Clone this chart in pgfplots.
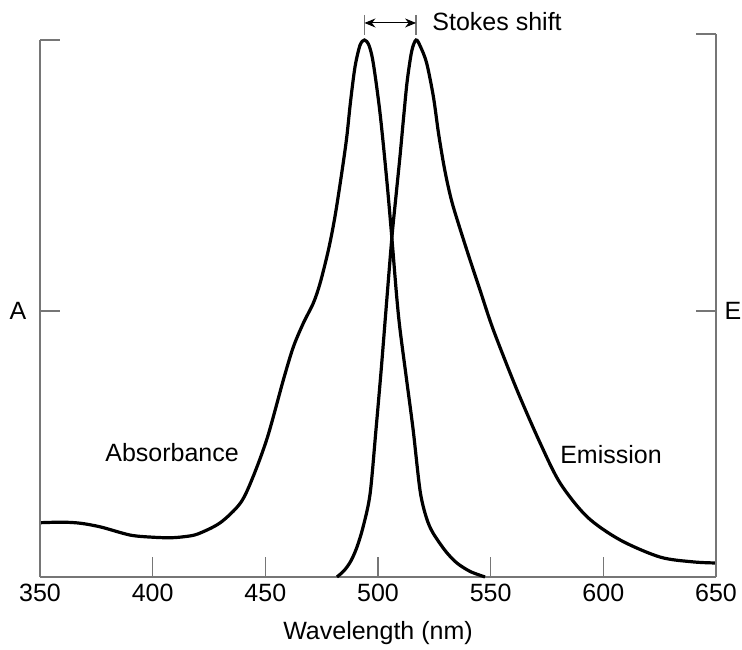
\documentclass[border=0pt]{standalone}
\usepackage{fontspec}
\setmainfont{Liberation Sans}
\usepackage{pgfplots}
\pgfplotsset{compat=1.18}
\usetikzlibrary{arrows.meta}

\definecolor{axisgray}{RGB}{118,118,118}

% absorbance spectrum (normalised)
\pgfplotstableread{
nm val
350 0.101
360 0.102
368 0.100
377 0.093
390 0.078
400 0.074
408 0.073
414 0.075
420 0.080
430 0.101
439 0.138
444.5 0.186
451 0.261
458 0.367
462.4 0.428
466.9 0.473
471.3 0.510
474.3 0.547
478 0.609
480.9 0.671
483.9 0.752
486.1 0.818
487.8 0.885
489.8 0.950
492 0.990
494 1.000
496 0.990
497.9 0.957
500.9 0.864
503.9 0.739
506.1 0.634
508.3 0.522
509.8 0.460
512.7 0.367
515.6 0.274
518.7 0.160
521.5 0.110
524.4 0.082
530 0.048
535 0.026
541 0.010
547.5 0.000
}\absorbance

% emission spectrum (normalised)
\pgfplotstableread{
nm val
481.8 0.000
485 0.012
488 0.030
490.7 0.056
493.5 0.095
496.5 0.155
499.1 0.274
501.5 0.390
503.9 0.516
506.2 0.634
508 0.710
509.8 0.785
511.5 0.862
513 0.925
515 0.980
516.9 1.000
518.8 0.988
521.6 0.957
524.6 0.894
526.8 0.828
529 0.772
531 0.730
533.5 0.688
539.4 0.609
545.3 0.534
551.2 0.460
561.7 0.348
571.9 0.250
580.8 0.175
592.8 0.112
607.4 0.069
625.2 0.037
640 0.028
650 0.026
}\emission

\begin{document}
\begin{tikzpicture}
\begin{axis}[
    scale only axis,
    width=338pt,
    height=271.5pt,
    xmin=350, xmax=650,
    ymin=0, ymax=1.0112,
    axis x line*=bottom,
    axis y line*=left,
    y axis line style={draw=none},
    x axis line style={axisgray, line width=0.9pt, -},
    ytick=\empty,
    xtick={350,400,...,650},
    tick align=inside,
    major tick length=10pt,
    xtick style={axisgray, line width=0.6pt},
    xticklabel style={font=\fontsize{12.5}{15}\selectfont, text=black},
    /pgf/number format/assume math mode=true,
    /pgf/number format/1000 sep={},
    clip=false,
]
\addplot[black, line width=1.6pt, smooth] table[x=nm, y=val] {\absorbance};
\addplot[black, line width=1.6pt, smooth] table[x=nm, y=val] {\emission};

% side axes with their ticks
\draw[axisgray, line width=0.9pt] (axis cs:350,1) -- (axis cs:350,0);
\draw[axisgray, line width=0.6pt] (axis cs:350,1) -- ([xshift=10pt]axis cs:350,1);
\draw[axisgray, line width=0.6pt] (axis cs:350,0.4953) -- ([xshift=10pt]axis cs:350,0.4953);
\draw[axisgray, line width=0.9pt] (axis cs:650,1.0112) -- (axis cs:650,0);
\draw[axisgray, line width=0.6pt] (axis cs:650,1.0112) -- ([xshift=-10pt]axis cs:650,1.0112);
\draw[axisgray, line width=0.6pt] (axis cs:650,0.4953) -- ([xshift=-10pt]axis cs:650,0.4953);

\node[font=\fontsize{12.5}{15}\selectfont] at ([xshift=-11pt]axis cs:350,0.4953) {A};
\node[font=\fontsize{12.5}{15}\selectfont] at ([xshift=8.5pt]axis cs:650,0.4953) {E};

% Stokes shift marker
\draw[axisgray, line width=0.6pt] (axis cs:494,1.0466) -- (axis cs:494,1.009);
\draw[axisgray, line width=0.6pt] (axis cs:516.9,1.0466) -- (axis cs:516.9,1.009);
\draw[black, line width=0.5pt, {Stealth[length=5.5pt,width=4.5pt]}-{Stealth[length=5.5pt,width=4.5pt]}]
    (axis cs:494,1.0317) -- (axis cs:516.9,1.0317);
\node[anchor=west, inner sep=0pt, font=\fontsize{12.5}{15}\selectfont]
    at (axis cs:524,1.035) {Stokes shift};

\node[font=\fontsize{12.5}{15}\selectfont] at (axis cs:408.6,0.231) {Absorbance};
\node[font=\fontsize{12.5}{15}\selectfont] at (axis cs:603.4,0.227) {Emission};
\node[font=\fontsize{12.5}{15}\selectfont] at (rel axis cs:0.5,-0.103) {Wavelength (nm)};

% page frame matching the reference
\coordinate (pagebl) at (rel axis cs:-0.0592,-0.1344);
\coordinate (pagetr) at (rel axis cs:1.0385,1.0626);
\end{axis}
\pgfresetboundingbox
\path (pagebl) rectangle (pagetr);
\end{tikzpicture}
\end{document}
